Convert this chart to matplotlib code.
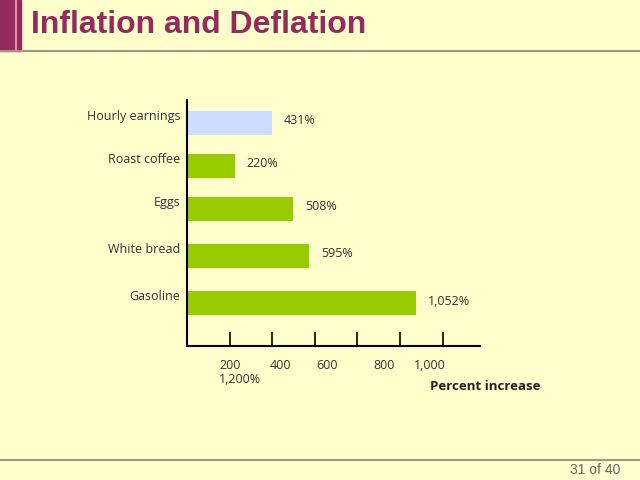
import matplotlib.pyplot as plt
from matplotlib.patches import Rectangle
from matplotlib.lines import Line2D

items = ["Hourly earnings", "Roast coffee", "Eggs", "White bread", "Gasoline"]
increase = [399, 225, 498, 573, 1075]
value_labels = ["431%", "220%", "508%", "595%", "1,052%"]
ypos = [0, 1, 2, 3.1, 4.2]
ticks = [200, 400, 600, 800, 1000, 1200]
tick_labels = ["200", "400", "600", "800", "1,000"]
label_at = [202, 437, 657, 925, 1141]

bg = "#FFFFCC"
green = "#99CC00"
blue = "#CCDDFF"
purple = "#952A5E"
txt = "#333333"
plt.rcParams['font.family'] = ['Open Sans', 'DejaVu Sans']

fig = plt.figure(figsize=(6.4, 4.8), dpi=100, facecolor=bg)

# slide header decorations
top = 1 - 51/480
fig.patches.append(Rectangle((0, top), 21/640, 1 - top, transform=fig.transFigure, color=purple, zorder=0))
fig.add_artist(Line2D([16/640, 16/640], [top, 1], transform=fig.transFigure, color="#E08CB4", lw=1.5))
fig.add_artist(Line2D([0, 1], [top, top], transform=fig.transFigure, color="#9A9A80", lw=1.5))
fig.add_artist(Line2D([0, 1], [1 - 460/480, 1 - 460/480], transform=fig.transFigure, color="#9A9A80", lw=1.5))
fig.text(31/640, 1 - 25/480, "Inflation and Deflation", fontsize=23, fontweight="bold",
         color=purple, family="Liberation Sans", va="center")
fig.text(620/640, 1 - 470/480, "31 of 40", fontsize=10, color="#666666", ha="right", va="center",
         family="Liberation Sans")

ax = fig.add_axes([187/640, 1 - 346/480, 293/640, 246/480])
ax.set_facecolor(bg)
colors = [blue] + [green] * 4
ax.barh(ypos, increase, height=0.56, color=colors)
ax.set_xlim(0, 1376)
ax.set_ylim(5.19, -0.53)

for y, v, lab, name in zip(ypos, increase, value_labels, items):
    ax.text(v + 55, y - 0.05, lab, fontsize=9, color=txt, va="center")
    ax.text(-30, y - 0.15, name, fontsize=9, color=txt, va="center", ha="right")

ax.set_yticks([])
ax.set_xticks(ticks)
ax.set_xticklabels([])
ax.tick_params(axis="x", direction="in", length=10, width=1.2)
xt = ax.get_xaxis_transform()
for x, lab in zip(label_at, tick_labels):
    ax.text(x, -0.08, lab, transform=xt, fontsize=9, color=txt, ha="center", va="center")
ax.text(250, -0.135, "1,200%", transform=xt, fontsize=9, color=txt, ha="center", va="center")
for s in ["top", "right"]:
    ax.spines[s].set_visible(False)
ax.spines["left"].set_linewidth(1.5)
ax.spines["bottom"].set_linewidth(1.5)

fig.text(485/640, 1 - 386/480, "Percent increase", fontsize=9.5, fontweight="bold",
         color="#222222", ha="center", va="center")

fig.savefig("out.png", dpi=100, facecolor=bg)
